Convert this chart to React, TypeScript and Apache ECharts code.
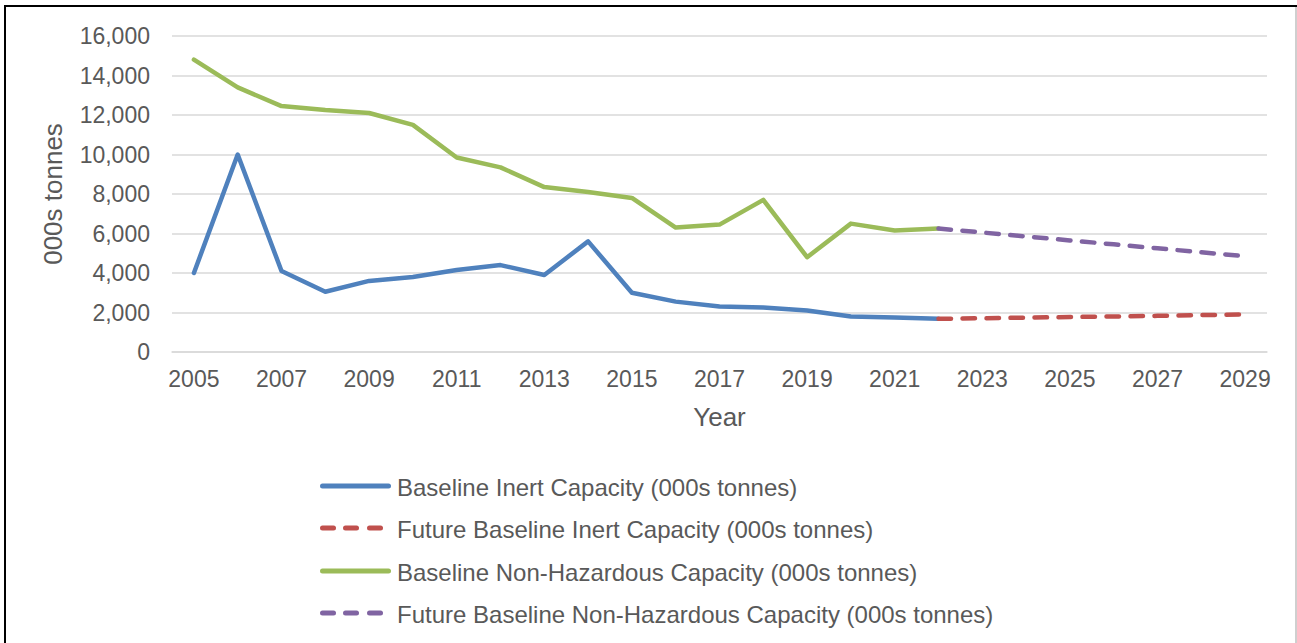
import React, { useEffect, useRef } from "react";
import * as echarts from "echarts";

const years: string[] = [
  "2005", "2006", "2007", "2008", "2009", "2010", "2011", "2012", "2013",
  "2014", "2015", "2016", "2017", "2018", "2019", "2020", "2021", "2022",
  "2023", "2024", "2025", "2026", "2027", "2028", "2029",
];

// 2005–2022
const baselineInert: number[] = [
  4000, 10000, 4100, 3050, 3600, 3800, 4150, 4400, 3900, 5600, 3000, 2550,
  2300, 2250, 2100, 1800, 1750, 1680,
];
// 2022–2029
const futureInert: number[] = [1680, 1710, 1740, 1770, 1800, 1830, 1870, 1900];
// 2005–2022
const baselineNonHaz: number[] = [
  14800, 13400, 12450, 12250, 12100, 11500, 9850, 9350, 8350, 8100, 7800,
  6300, 6450, 7700, 4800, 6500, 6150, 6250,
];
// 2022–2029
const futureNonHaz: number[] = [6250, 6050, 5850, 5650, 5450, 5250, 5050, 4850];

const seriesNames: string[] = [
  "Baseline Inert Capacity (000s tonnes)",
  "Future Baseline Inert Capacity (000s tonnes)",
  "Baseline Non-Hazardous Capacity (000s tonnes)",
  "Future Baseline Non-Hazardous Capacity (000s tonnes)",
];
const seriesDashed: boolean[] = [false, true, false, true];

const colors = ["#4F81BD", "#C0504D", "#9BBB59", "#8064A2"];

const futureStart = years.indexOf("2022");

function padHistoric(vals: number[]): (number | null)[] {
  return years.map((_, i) => (i < vals.length ? vals[i] : null));
}
function padFuture(vals: number[]): (number | null)[] {
  return years.map((_, i) =>
    i >= futureStart && i - futureStart < vals.length ? vals[i - futureStart] : null
  );
}

const TEXT = "#595959";
const FONT = "'Liberation Sans', Arial, sans-serif";

function legendGraphics(): any[] {
  const out: any[] = [];
  const rowY = [486, 528, 571, 613];
  seriesNames.forEach((name, i) => {
    const y = rowY[i];
    const stroke = {
      stroke: colors[i],
      lineWidth: 5,
      lineCap: "round",
    };
    if (seriesDashed[i]) {
      [
        [322.5, 333.5],
        [345.5, 356.5],
        [369.5, 380.5],
      ].forEach(([a, b]) =>
        out.push({
          type: "line",
          silent: true,
          shape: { x1: a, y1: y, x2: b, y2: y },
          style: stroke,
        })
      );
    } else {
      out.push({
        type: "line",
        silent: true,
        shape: { x1: 322.5, y1: y, x2: 388.5, y2: y },
        style: stroke,
      });
    }
    out.push({
      type: "text",
      silent: true,
      x: 397,
      y: y + 1,
      style: {
        text: name,
        fill: TEXT,
        fontSize: 24,
        fontFamily: FONT,
        align: "left",
        verticalAlign: "middle",
      },
    });
  });
  return out;
}

export default function App() {
  const ref = useRef<HTMLDivElement>(null);

  useEffect(() => {
    if (!ref.current) return;
    const chart = echarts.init(ref.current, undefined, { renderer: "svg" });
    const lineSeries = (idx: number, data: (number | null)[]) => ({
      name: seriesNames[idx],
      type: "line",
      data,
      symbol: "none",
      connectNulls: false,
      itemStyle: { color: colors[idx] },
      lineStyle: {
        color: colors[idx],
        width: 4.5,
        type: seriesDashed[idx] ? [12.5, 11.5] : "solid",
        cap: "round",
        join: "round",
      },
    });
    chart.setOption({
      animation: false,
      backgroundColor: "#ffffff",
      textStyle: { fontFamily: FONT },
      grid: { left: 172, right: 30, top: 36, bottom: 291, containLabel: false },
      xAxis: {
        type: "category",
        data: years,
        boundaryGap: true,
        name: "Year",
        nameLocation: "middle",
        nameGap: 52,
        nameTextStyle: { color: TEXT, fontSize: 26, fontFamily: FONT },
        axisLine: { show: true, lineStyle: { color: "#d9d9d9", width: 1.5 } },
        axisTick: { show: false },
        axisLabel: {
          interval: 1,
          color: TEXT,
          fontSize: 23,
          fontFamily: FONT,
          margin: 15,
        },
      },
      yAxis: {
        type: "value",
        min: 0,
        max: 16000,
        interval: 2000,
        name: "000s tonnes",
        nameLocation: "middle",
        nameGap: 106,
        nameTextStyle: { color: TEXT, fontSize: 26, fontFamily: FONT },
        axisLine: { show: false },
        axisTick: { show: false },
        splitLine: { lineStyle: { color: "#d9d9d9", width: 1.5 } },
        axisLabel: {
          color: TEXT,
          fontSize: 23,
          fontFamily: FONT,
          margin: 22,
          formatter: (v: number) => v.toLocaleString("en-US"),
        },
      },
      legend: { show: false },
      graphic: [
        {
          type: "line",
          shape: { x1: 4, y1: 6, x2: 1297, y2: 6 },
          style: { stroke: "#000000", lineWidth: 2 },
          silent: true,
        },
        {
          type: "line",
          shape: { x1: 5, y1: 5, x2: 5, y2: 643 },
          style: { stroke: "#000000", lineWidth: 2 },
          silent: true,
        },
        {
          type: "line",
          shape: { x1: 1296, y1: 7, x2: 1296, y2: 643 },
          style: { stroke: "#bfbfbf", lineWidth: 1.5 },
          silent: true,
        },
        ...legendGraphics(),
      ],
      series: [
        lineSeries(0, padHistoric(baselineInert)),
        lineSeries(1, padFuture(futureInert)),
        lineSeries(2, padHistoric(baselineNonHaz)),
        lineSeries(3, padFuture(futureNonHaz)),
      ],
    });
    return () => chart.dispose();
  }, []);

  return (
    <div
      ref={ref}
      style={{ position: "absolute", left: 0, top: 0, width: 1297, height: 643 }}
    />
  );
}
